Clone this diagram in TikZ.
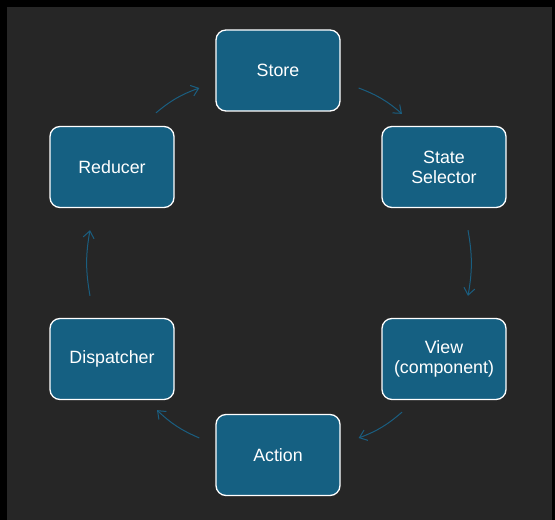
\documentclass[tikz,border=0pt]{standalone}
\usepackage{fontspec}
\setmainfont{Liberation Sans}
\usepackage{xcolor}
\usepackage{tikz}
\definecolor{stageblue}{HTML}{156082}
\definecolor{flowblue}{HTML}{1A5E80}
\definecolor{slidegray}{HTML}{262626}
\usetikzlibrary{arrows.meta, positioning, calc}

\tikzset{
    stagebox/.style={draw=white, line width=1.3pt, fill=stageblue, rounded corners=10pt,
          minimum width=124pt, minimum height=81pt, align=center, text=white,
          font=\fontsize{17.8}{20}\selectfont},
    flow/.style={draw=flowblue, line width=1pt, bend left=10,
          -{Straight Barb[length=7pt,width=11pt,line width=1pt]}}
}

\begin{document}
\begin{tikzpicture}[x=1pt, y=1pt]
    % slide background
    \fill[black] (0,0) rectangle (555,520);
    \fill[slidegray] (7,0) rectangle (552,513);
    \useasboundingbox (0,0) rectangle (555,520);

    % stages of the cycle
    \node[stagebox] (store) at (278,449.5) {Store};
    \node[stagebox] (selector) at (444,353) {State\\Selector};
    \node[stagebox] (view) at (444,161) {View\\(component)};
    \node[stagebox] (action) at (278,65) {Action};
    \node[stagebox] (dispatcher) at (112,161) {Dispatcher};
    \node[stagebox] (reducer) at (112,353) {Reducer};

    % arrows between stages
    \draw[flow] ($(store.east)+(18,-17.5)$) to ($(selector.north)+(-42,12)$);
    \draw[flow] ($(selector.south)+(24,-22)$) to ($(view.north)+(24,22)$);
    \draw[flow] ($(view.south)+(-42,-12)$) to ($(action.east)+(18,17)$);
    \draw[flow] ($(action.west)+(-16,17)$) to ($(dispatcher.south)+(45,-10)$);
    \draw[flow] ($(dispatcher.north)+(-22,22)$) to ($(reducer.south)+(-22,-22)$);
    \draw[flow] ($(reducer.north)+(44,13)$) to ($(store.west)+(-16,-17.5)$);
\end{tikzpicture}
\end{document}
